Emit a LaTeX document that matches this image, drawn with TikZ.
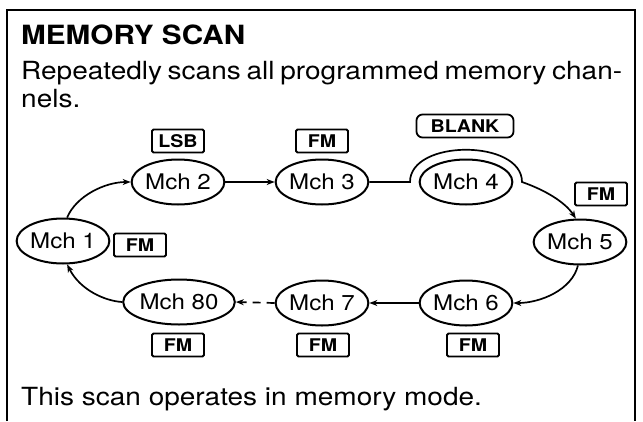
\documentclass[tikz,border=0pt]{standalone}
\usepackage{fontspec}
\setmainfont{TeX Gyre Heros}[FakeStretch=1.12]
\usetikzlibrary{shapes.geometric,arrows.meta}
\begin{document}
\begin{tikzpicture}[x=1pt,y=-1pt,
  mch/.style={draw,ellipse,line width=2pt,minimum width=85pt,minimum height=45pt,inner sep=0pt,font=\fontsize{21.5}{25}\selectfont},
  tag/.style={draw,rectangle,rounded corners=1.5pt,line width=1.8pt,minimum width=52pt,minimum height=23pt,inner sep=0pt,font=\bfseries\fontsize{17.5}{20}\selectfont},
  conn/.style={line width=1.7pt,-{Stealth[length=8pt,width=6pt]}},
  txt/.style={anchor=base west,inner sep=0pt},
  frame/.style={line width=2pt}
]
\useasboundingbox (0,0) rectangle (643,421);
% frame
\draw[frame] (7,421) -- (7,10) -- (635,10) -- (635,421);
% texts
\node[txt,font=\bfseries\fontsize{26.5}{30}\selectfont] (title) at (21,44) {MEMORY SCAN};
\node[txt,font=\fontsize{25}{29}\selectfont] (l1) at (21,79) {\makebox[601pt][s]{Repeatedly scans all programmed memory chan-}};
\node[txt,font=\fontsize{25}{29}\selectfont] (l2) at (21,107) {nels.};
\node[txt,font=\fontsize{25}{29}\selectfont] (l3) at (21,405) {This scan operates in memory mode.};
% channels
\node[mch] (m1) at (63,241) {Mch 1};
\node[mch] (m2) at (178,182) {Mch 2};
\node[mch] (m3) at (322,182) {Mch 3};
\node[mch] (m4) at (466,182) {Mch 4};
\node[mch] (m5) at (580,242) {Mch 5};
\node[mch] (m6) at (466,303) {Mch 6};
\node[mch] (m7) at (322,303) {Mch 7};
\node[mch] (m80) at (179,302) {Mch 80};
% tags
\node[tag] (t2) at (178,141) {LSB};
\node[tag] (t3) at (322,141) {FM};
\node[tag,minimum width=97pt,rounded corners=6pt] (t4) at (465,126) {BLANK};
\node[tag] (t5) at (601,194) {FM};
\node[tag] (t1) at (140,245) {FM};
\node[tag] (t80) at (178,345) {FM};
\node[tag] (t7) at (323,345) {FM};
\node[tag] (t6) at (473,345) {FM};
% connectors
\coordinate (k1) at (410,182);
\coordinate (k2) at (522,182);
\draw[conn] (m1.80) .. controls (76,196) and (105,182) .. (m2.west);
\draw[conn] (m2.east) -- (m3.west);
\draw[conn] (m3.east) -- (k1) .. controls (410,139) and (522,139) .. (k2) .. controls (545,190) and (565,202) .. (m5.100);
\draw[conn] (m5.265) .. controls (572,290) and (540,303) .. (m6.east);
\draw[conn] (m6.west) -- (m7.east);
\draw[conn,dash pattern=on 8pt off 6pt] (m7.west) -- (m80.east);
\draw[conn] (m80.west) .. controls (105,301) and (80,290) .. (m1.280);
\end{tikzpicture}
\end{document}
